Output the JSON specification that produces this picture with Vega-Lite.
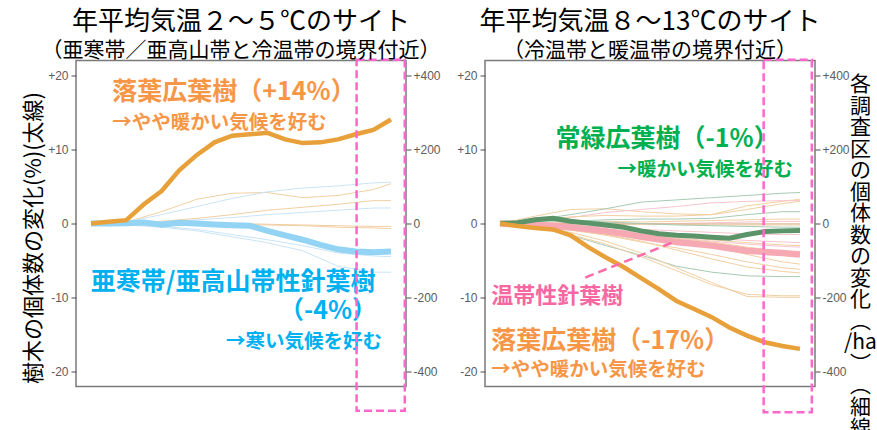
{
"$schema":"https://vega.github.io/schema/vega-lite/v6.json",
"background":"white",
"padding":{"left":21,"top":7.5,"right":0,"bottom":0},
"spacing":13,
"datasets":{
"lk":[
{"s":"kb","x":2005,"y":0},{"s":"kb","x":2006,"y":0},{"s":"kb","x":2007,"y":0.05},{"s":"kb","x":2008,"y":0.15},{"s":"kb","x":2009,"y":-0.15},{"s":"kb","x":2010,"y":0.1},{"s":"kb","x":2011,"y":0},{"s":"kb","x":2012,"y":-0.15},{"s":"kb","x":2013,"y":-0.25},{"s":"kb","x":2014,"y":-0.3},{"s":"kb","x":2015,"y":-1.0},{"s":"kb","x":2016,"y":-1.6},{"s":"kb","x":2017,"y":-2.2},{"s":"kb","x":2018,"y":-2.9},{"s":"kb","x":2019,"y":-3.5},{"s":"kb","x":2020,"y":-3.8},{"s":"kb","x":2021,"y":-3.9},{"s":"kb","x":2022,"y":-3.8},
{"s":"ko","x":2005,"y":0},{"s":"ko","x":2006,"y":0.25},{"s":"ko","x":2007,"y":0.45},{"s":"ko","x":2008,"y":2.6},{"s":"ko","x":2009,"y":4.4},{"s":"ko","x":2010,"y":7.2},{"s":"ko","x":2011,"y":9.3},{"s":"ko","x":2012,"y":11.0},{"s":"ko","x":2013,"y":11.9},{"s":"ko","x":2014,"y":12.1},{"s":"ko","x":2015,"y":12.3},{"s":"ko","x":2016,"y":11.4},{"s":"ko","x":2017,"y":10.9},{"s":"ko","x":2018,"y":11.0},{"s":"ko","x":2019,"y":11.4},{"s":"ko","x":2020,"y":12.1},{"s":"ko","x":2021,"y":12.7},{"s":"ko","x":2022,"y":14.1}
],
"rk":[
{"s":"kp","x":2005,"y":0},{"s":"kp","x":2006,"y":-0.1},{"s":"kp","x":2007,"y":-0.2},{"s":"kp","x":2008,"y":-0.35},{"s":"kp","x":2009,"y":-0.5},{"s":"kp","x":2010,"y":-0.75},{"s":"kp","x":2011,"y":-1.05},{"s":"kp","x":2012,"y":-1.4},{"s":"kp","x":2013,"y":-1.8},{"s":"kp","x":2014,"y":-2.15},{"s":"kp","x":2015,"y":-2.5},{"s":"kp","x":2016,"y":-2.75},{"s":"kp","x":2017,"y":-3.0},{"s":"kp","x":2018,"y":-3.35},{"s":"kp","x":2019,"y":-3.7},{"s":"kp","x":2020,"y":-3.85},{"s":"kp","x":2021,"y":-4.0},{"s":"kp","x":2022,"y":-4.2},
{"s":"kg","x":2005,"y":0},{"s":"kg","x":2006,"y":0.1},{"s":"kg","x":2007,"y":0.5},{"s":"kg","x":2008,"y":0.7},{"s":"kg","x":2009,"y":0.3},{"s":"kg","x":2010,"y":0.05},{"s":"kg","x":2011,"y":-0.2},{"s":"kg","x":2012,"y":-0.5},{"s":"kg","x":2013,"y":-1.0},{"s":"kg","x":2014,"y":-1.4},{"s":"kg","x":2015,"y":-1.6},{"s":"kg","x":2016,"y":-1.7},{"s":"kg","x":2017,"y":-1.85},{"s":"kg","x":2018,"y":-2.0},{"s":"kg","x":2019,"y":-1.5},{"s":"kg","x":2020,"y":-1.1},{"s":"kg","x":2021,"y":-1.0},{"s":"kg","x":2022,"y":-0.95},
{"s":"ko","x":2005,"y":0},{"s":"ko","x":2006,"y":-0.35},{"s":"ko","x":2007,"y":-0.6},{"s":"ko","x":2008,"y":-0.8},{"s":"ko","x":2009,"y":-1.6},{"s":"ko","x":2010,"y":-3.2},{"s":"ko","x":2011,"y":-4.6},{"s":"ko","x":2012,"y":-5.9},{"s":"ko","x":2013,"y":-7.4},{"s":"ko","x":2014,"y":-8.9},{"s":"ko","x":2015,"y":-10.5},{"s":"ko","x":2016,"y":-11.6},{"s":"ko","x":2017,"y":-12.7},{"s":"ko","x":2018,"y":-14.1},{"s":"ko","x":2019,"y":-15.2},{"s":"ko","x":2020,"y":-16.1},{"s":"ko","x":2021,"y":-16.6},{"s":"ko","x":2022,"y":-17.0}
],
"lt":[
{"s":"lo1","c":"to","x":2005,"h":0},{"s":"lo1","c":"to","x":2007,"h":4},{"s":"lo1","c":"to","x":2009,"h":32},{"s":"lo1","c":"to","x":2011,"h":66},{"s":"lo1","c":"to","x":2013,"h":82},{"s":"lo1","c":"to","x":2015,"h":84},{"s":"lo1","c":"to","x":2017,"h":70},{"s":"lo1","c":"to","x":2019,"h":76},{"s":"lo1","c":"to","x":2021,"h":92},{"s":"lo1","c":"to","x":2022,"h":108},
{"s":"lb1","c":"tb","x":2005,"h":0},{"s":"lb1","c":"tb","x":2007,"h":4},{"s":"lb1","c":"tb","x":2009,"h":24},{"s":"lb1","c":"tb","x":2011,"h":46},{"s":"lb1","c":"tb","x":2013,"h":68},{"s":"lb1","c":"tb","x":2015,"h":86},{"s":"lb1","c":"tb","x":2017,"h":96},{"s":"lb1","c":"tb","x":2019,"h":102},{"s":"lb1","c":"tb","x":2021,"h":110},{"s":"lb1","c":"tb","x":2022,"h":112},
{"s":"lo2","c":"to","x":2005,"h":0},{"s":"lo2","c":"to","x":2007,"h":2},{"s":"lo2","c":"to","x":2009,"h":6},{"s":"lo2","c":"to","x":2011,"h":14},{"s":"lo2","c":"to","x":2013,"h":24},{"s":"lo2","c":"to","x":2015,"h":36},{"s":"lo2","c":"to","x":2017,"h":44},{"s":"lo2","c":"to","x":2019,"h":52},{"s":"lo2","c":"to","x":2021,"h":62},{"s":"lo2","c":"to","x":2022,"h":62},
{"s":"lb2","c":"tb","x":2005,"h":0},{"s":"lb2","c":"tb","x":2007,"h":0},{"s":"lb2","c":"tb","x":2009,"h":4},{"s":"lb2","c":"tb","x":2011,"h":10},{"s":"lb2","c":"tb","x":2013,"h":16},{"s":"lb2","c":"tb","x":2015,"h":24},{"s":"lb2","c":"tb","x":2017,"h":30},{"s":"lb2","c":"tb","x":2019,"h":36},{"s":"lb2","c":"tb","x":2021,"h":42},{"s":"lb2","c":"tb","x":2022,"h":42},
{"s":"lo3","c":"to","x":2005,"h":0},{"s":"lo3","c":"to","x":2007,"h":2},{"s":"lo3","c":"to","x":2009,"h":2},{"s":"lo3","c":"to","x":2011,"h":0},{"s":"lo3","c":"to","x":2013,"h":-2},{"s":"lo3","c":"to","x":2015,"h":-4},{"s":"lo3","c":"to","x":2017,"h":-6},{"s":"lo3","c":"to","x":2019,"h":-10},{"s":"lo3","c":"to","x":2021,"h":-12},{"s":"lo3","c":"to","x":2022,"h":-14},
{"s":"lo4","c":"to","x":2005,"h":0},{"s":"lo4","c":"to","x":2007,"h":0},{"s":"lo4","c":"to","x":2009,"h":2},{"s":"lo4","c":"to","x":2011,"h":2},{"s":"lo4","c":"to","x":2013,"h":0},{"s":"lo4","c":"to","x":2015,"h":-2},{"s":"lo4","c":"to","x":2017,"h":-4},{"s":"lo4","c":"to","x":2019,"h":-6},{"s":"lo4","c":"to","x":2021,"h":-8},{"s":"lo4","c":"to","x":2022,"h":-8},
{"s":"lb3","c":"tb","x":2005,"h":0},{"s":"lb3","c":"tb","x":2007,"h":-4},{"s":"lb3","c":"tb","x":2009,"h":-10},{"s":"lb3","c":"tb","x":2011,"h":-20},{"s":"lb3","c":"tb","x":2013,"h":-36},{"s":"lb3","c":"tb","x":2015,"h":-52},{"s":"lb3","c":"tb","x":2017,"h":-74},{"s":"lb3","c":"tb","x":2019,"h":-116},{"s":"lb3","c":"tb","x":2021,"h":-132},{"s":"lb3","c":"tb","x":2022,"h":-132},
{"s":"lb4","c":"tb","x":2005,"h":0},{"s":"lb4","c":"tb","x":2007,"h":-2},{"s":"lb4","c":"tb","x":2009,"h":-8},{"s":"lb4","c":"tb","x":2011,"h":-16},{"s":"lb4","c":"tb","x":2013,"h":-30},{"s":"lb4","c":"tb","x":2015,"h":-44},{"s":"lb4","c":"tb","x":2017,"h":-60},{"s":"lb4","c":"tb","x":2019,"h":-80},{"s":"lb4","c":"tb","x":2021,"h":-88},{"s":"lb4","c":"tb","x":2022,"h":-90}
],
"rt":[
{"s":"ro1","c":"to","x":2005,"h":0},{"s":"ro1","c":"to","x":2007,"h":20},{"s":"ro1","c":"to","x":2009,"h":38},{"s":"ro1","c":"to","x":2011,"h":40},{"s":"ro1","c":"to","x":2013,"h":32},{"s":"ro1","c":"to","x":2015,"h":26},{"s":"ro1","c":"to","x":2017,"h":24},{"s":"ro1","c":"to","x":2019,"h":48},{"s":"ro1","c":"to","x":2021,"h":60},{"s":"ro1","c":"to","x":2022,"h":66},
{"s":"rg1","c":"tg","x":2005,"h":0},{"s":"rg1","c":"tg","x":2007,"h":10},{"s":"rg1","c":"tg","x":2009,"h":24},{"s":"rg1","c":"tg","x":2011,"h":40},{"s":"rg1","c":"tg","x":2013,"h":58},{"s":"rg1","c":"tg","x":2015,"h":64},{"s":"rg1","c":"tg","x":2017,"h":70},{"s":"rg1","c":"tg","x":2019,"h":76},{"s":"rg1","c":"tg","x":2021,"h":82},{"s":"rg1","c":"tg","x":2022,"h":84},
{"s":"rp1","c":"tp","x":2005,"h":0},{"s":"rp1","c":"tp","x":2007,"h":6},{"s":"rp1","c":"tp","x":2009,"h":16},{"s":"rp1","c":"tp","x":2011,"h":30},{"s":"rp1","c":"tp","x":2013,"h":38},{"s":"rp1","c":"tp","x":2015,"h":46},{"s":"rp1","c":"tp","x":2017,"h":56},{"s":"rp1","c":"tp","x":2019,"h":60},{"s":"rp1","c":"tp","x":2021,"h":62},{"s":"rp1","c":"tp","x":2022,"h":62},
{"s":"rg2","c":"tg","x":2005,"h":0},{"s":"rg2","c":"tg","x":2007,"h":2},{"s":"rg2","c":"tg","x":2009,"h":6},{"s":"rg2","c":"tg","x":2011,"h":10},{"s":"rg2","c":"tg","x":2013,"h":12},{"s":"rg2","c":"tg","x":2015,"h":12},{"s":"rg2","c":"tg","x":2017,"h":14},{"s":"rg2","c":"tg","x":2019,"h":24},{"s":"rg2","c":"tg","x":2021,"h":32},{"s":"rg2","c":"tg","x":2022,"h":32},
{"s":"ro2","c":"to","x":2005,"h":0},{"s":"ro2","c":"to","x":2007,"h":2},{"s":"ro2","c":"to","x":2009,"h":4},{"s":"ro2","c":"to","x":2011,"h":6},{"s":"ro2","c":"to","x":2013,"h":4},{"s":"ro2","c":"to","x":2015,"h":6},{"s":"ro2","c":"to","x":2017,"h":8},{"s":"ro2","c":"to","x":2019,"h":10},{"s":"ro2","c":"to","x":2021,"h":12},{"s":"ro2","c":"to","x":2022,"h":12},
{"s":"rp2","c":"tp","x":2005,"h":0},{"s":"rp2","c":"tp","x":2007,"h":0},{"s":"rp2","c":"tp","x":2009,"h":2},{"s":"rp2","c":"tp","x":2011,"h":2},{"s":"rp2","c":"tp","x":2013,"h":0},{"s":"rp2","c":"tp","x":2015,"h":0},{"s":"rp2","c":"tp","x":2017,"h":2},{"s":"rp2","c":"tp","x":2019,"h":4},{"s":"rp2","c":"tp","x":2021,"h":6},{"s":"rp2","c":"tp","x":2022,"h":6},
{"s":"ro3","c":"to","x":2005,"h":0},{"s":"ro3","c":"to","x":2007,"h":0},{"s":"ro3","c":"to","x":2009,"h":-2},{"s":"ro3","c":"to","x":2011,"h":-2},{"s":"ro3","c":"to","x":2013,"h":-2},{"s":"ro3","c":"to","x":2015,"h":-2},{"s":"ro3","c":"to","x":2017,"h":-4},{"s":"ro3","c":"to","x":2019,"h":-4},{"s":"ro3","c":"to","x":2021,"h":-4},{"s":"ro3","c":"to","x":2022,"h":-4},
{"s":"ro4","c":"tn","x":2005,"h":0},{"s":"ro4","c":"tn","x":2007,"h":0},{"s":"ro4","c":"tn","x":2009,"h":0},{"s":"ro4","c":"tn","x":2011,"h":-1},{"s":"ro4","c":"tn","x":2013,"h":-1},{"s":"ro4","c":"tn","x":2015,"h":-1},{"s":"ro4","c":"tn","x":2017,"h":-1},{"s":"ro4","c":"tn","x":2019,"h":-1},{"s":"ro4","c":"tn","x":2021,"h":-1},{"s":"ro4","c":"tn","x":2022,"h":-1},
{"s":"rp3","c":"tp","x":2005,"h":0},{"s":"rp3","c":"tp","x":2007,"h":-2},{"s":"rp3","c":"tp","x":2009,"h":-6},{"s":"rp3","c":"tp","x":2011,"h":-10},{"s":"rp3","c":"tp","x":2013,"h":-16},{"s":"rp3","c":"tp","x":2015,"h":-20},{"s":"rp3","c":"tp","x":2017,"h":-24},{"s":"rp3","c":"tp","x":2019,"h":-28},{"s":"rp3","c":"tp","x":2021,"h":-30},{"s":"rp3","c":"tp","x":2022,"h":-30},
{"s":"rp4","c":"tp","x":2005,"h":0},{"s":"rp4","c":"tp","x":2007,"h":-4},{"s":"rp4","c":"tp","x":2009,"h":-8},{"s":"rp4","c":"tp","x":2011,"h":-16},{"s":"rp4","c":"tp","x":2013,"h":-24},{"s":"rp4","c":"tp","x":2015,"h":-32},{"s":"rp4","c":"tp","x":2017,"h":-40},{"s":"rp4","c":"tp","x":2019,"h":-46},{"s":"rp4","c":"tp","x":2021,"h":-50},{"s":"rp4","c":"tp","x":2022,"h":-52},
{"s":"ro5","c":"to","x":2005,"h":0},{"s":"ro5","c":"to","x":2007,"h":-6},{"s":"ro5","c":"to","x":2009,"h":-12},{"s":"ro5","c":"to","x":2011,"h":-20},{"s":"ro5","c":"to","x":2013,"h":-28},{"s":"ro5","c":"to","x":2015,"h":-36},{"s":"ro5","c":"to","x":2017,"h":-44},{"s":"ro5","c":"to","x":2019,"h":-52},{"s":"ro5","c":"to","x":2021,"h":-58},{"s":"ro5","c":"to","x":2022,"h":-60},
{"s":"ro6","c":"to","x":2005,"h":0},{"s":"ro6","c":"to","x":2007,"h":-4},{"s":"ro6","c":"to","x":2009,"h":-10},{"s":"ro6","c":"to","x":2011,"h":-20},{"s":"ro6","c":"to","x":2013,"h":-32},{"s":"ro6","c":"to","x":2015,"h":-46},{"s":"ro6","c":"to","x":2017,"h":-62},{"s":"ro6","c":"to","x":2019,"h":-84},{"s":"ro6","c":"to","x":2021,"h":-104},{"s":"ro6","c":"to","x":2022,"h":-110},
{"s":"ro7","c":"to","x":2005,"h":0},{"s":"ro7","c":"to","x":2007,"h":-8},{"s":"ro7","c":"to","x":2009,"h":-18},{"s":"ro7","c":"to","x":2011,"h":-32},{"s":"ro7","c":"to","x":2013,"h":-50},{"s":"ro7","c":"to","x":2015,"h":-66},{"s":"ro7","c":"to","x":2017,"h":-84},{"s":"ro7","c":"to","x":2019,"h":-104},{"s":"ro7","c":"to","x":2021,"h":-120},{"s":"ro7","c":"to","x":2022,"h":-124},
{"s":"ro8","c":"to","x":2005,"h":0},{"s":"ro8","c":"to","x":2007,"h":-6},{"s":"ro8","c":"to","x":2009,"h":-16},{"s":"ro8","c":"to","x":2011,"h":-30},{"s":"ro8","c":"to","x":2013,"h":-48},{"s":"ro8","c":"to","x":2015,"h":-72},{"s":"ro8","c":"to","x":2017,"h":-96},{"s":"ro8","c":"to","x":2019,"h":-118},{"s":"ro8","c":"to","x":2021,"h":-130},{"s":"ro8","c":"to","x":2022,"h":-134},
{"s":"rg3","c":"tg","x":2005,"h":0},{"s":"rg3","c":"tg","x":2007,"h":-8},{"s":"rg3","c":"tg","x":2009,"h":-32},{"s":"rg3","c":"tg","x":2011,"h":-60},{"s":"rg3","c":"tg","x":2013,"h":-86},{"s":"rg3","c":"tg","x":2015,"h":-116},{"s":"rg3","c":"tg","x":2017,"h":-132},{"s":"rg3","c":"tg","x":2019,"h":-142},{"s":"rg3","c":"tg","x":2021,"h":-144},{"s":"rg3","c":"tg","x":2022,"h":-144},
{"s":"ro9","c":"to","x":2005,"h":0},{"s":"ro9","c":"to","x":2007,"h":-10},{"s":"ro9","c":"to","x":2009,"h":-24},{"s":"ro9","c":"to","x":2011,"h":-48},{"s":"ro9","c":"to","x":2013,"h":-80},{"s":"ro9","c":"to","x":2015,"h":-120},{"s":"ro9","c":"to","x":2017,"h":-160},{"s":"ro9","c":"to","x":2019,"h":-198},{"s":"ro9","c":"to","x":2021,"h":-200},{"s":"ro9","c":"to","x":2022,"h":-200},
{"s":"ro10","c":"to","x":2005,"h":0},{"s":"ro10","c":"to","x":2007,"h":-12},{"s":"ro10","c":"to","x":2009,"h":-30},{"s":"ro10","c":"to","x":2011,"h":-56},{"s":"ro10","c":"to","x":2013,"h":-90},{"s":"ro10","c":"to","x":2015,"h":-128},{"s":"ro10","c":"to","x":2017,"h":-166},{"s":"ro10","c":"to","x":2019,"h":-192},{"s":"ro10","c":"to","x":2021,"h":-196},{"s":"ro10","c":"to","x":2022,"h":-196},
{"s":"rg4","c":"tg","x":2005,"h":0},{"s":"rg4","c":"tg","x":2007,"h":6},{"s":"rg4","c":"tg","x":2009,"h":8},{"s":"rg4","c":"tg","x":2011,"h":4},{"s":"rg4","c":"tg","x":2013,"h":0},{"s":"rg4","c":"tg","x":2015,"h":-4},{"s":"rg4","c":"tg","x":2017,"h":-6},{"s":"rg4","c":"tg","x":2019,"h":-8},{"s":"rg4","c":"tg","x":2021,"h":-10},{"s":"rg4","c":"tg","x":2022,"h":-10},
{"s":"ro11","c":"to","x":2005,"h":0},{"s":"ro11","c":"to","x":2007,"h":8},{"s":"ro11","c":"to","x":2009,"h":18},{"s":"ro11","c":"to","x":2011,"h":22},{"s":"ro11","c":"to","x":2013,"h":20},{"s":"ro11","c":"to","x":2015,"h":20},{"s":"ro11","c":"to","x":2017,"h":24},{"s":"ro11","c":"to","x":2019,"h":38},{"s":"ro11","c":"to","x":2021,"h":54},{"s":"ro11","c":"to","x":2022,"h":60},
{"s":"rp5","c":"tp","x":2005,"h":0},{"s":"rp5","c":"tp","x":2007,"h":-4},{"s":"rp5","c":"tp","x":2009,"h":-10},{"s":"rp5","c":"tp","x":2011,"h":-18},{"s":"rp5","c":"tp","x":2013,"h":-28},{"s":"rp5","c":"tp","x":2015,"h":-38},{"s":"rp5","c":"tp","x":2017,"h":-48},{"s":"rp5","c":"tp","x":2019,"h":-56},{"s":"rp5","c":"tp","x":2021,"h":-62},{"s":"rp5","c":"tp","x":2022,"h":-64},
{"s":"ro12","c":"to","x":2005,"h":0},{"s":"ro12","c":"to","x":2007,"h":-6},{"s":"ro12","c":"to","x":2009,"h":-14},{"s":"ro12","c":"to","x":2011,"h":-24},{"s":"ro12","c":"to","x":2013,"h":-32},{"s":"ro12","c":"to","x":2015,"h":-40},{"s":"ro12","c":"to","x":2017,"h":-50},{"s":"ro12","c":"to","x":2019,"h":-64},{"s":"ro12","c":"to","x":2021,"h":-76},{"s":"ro12","c":"to","x":2022,"h":-80}
],
"lx":[
{"t":"落葉広葉樹（+14%）","x":2006.21,"y":17.8,"k":"o1","a":"l"},
{"t":"→やや暖かい気候を好む","x":2006.21,"y":13.6,"k":"o2","a":"l"},
{"t":"亜寒帯/亜高山帯性針葉樹","x":2013.05,"y":-7.96,"k":"b1","a":"c"},
{"t":"（-4%）","x":2018.43,"y":-11.9,"k":"b1","a":"c"},
{"t":"→寒い気候を好む","x":2021.49,"y":-16.1,"k":"b2","a":"r"}
],
"rx":[
{"t":"常緑広葉樹（-1%）","x":2014.47,"y":11.5,"k":"g1","a":"c"},
{"t":"→暖かい気候を好む","x":2021.6,"y":7.2,"k":"g2","a":"r"},
{"t":"温帯性針葉樹","x":2004.51,"y":-9.77,"k":"p1","a":"l"},
{"t":"落葉広葉樹（-17%）","x":2004.51,"y":-15.9,"k":"o1","a":"l"},
{"t":"→やや暖かい気候を好む","x":2004.51,"y":-19.9,"k":"o2","a":"l"}
],
"lr":[{"x":2020.05,"xe":2022.78,"y":22.2,"ye":-25.4}],
"rr":[{"x":2019.94,"xe":2022.67,"y":22.2,"ye":-25.6}],
"rl":[{"x":2009.83,"y":-7.33,"xe":2014.92,"ye":-2.44}]
},
"hconcat":[
{
"width":330,"height":326,
"title":{"text":"年平均気温２～５℃のサイト","subtitle":"（亜寒帯／亜高山帯と冷温帯の境界付近）"},
"layer":[
{"data":{"name":"lt"},"mark":{"type":"line","strokeWidth":1,"clip":true},
 "encoding":{
  "x":{"field":"x","type":"quantitative","scale":{"domain":[2004.15,2022.85],"nice":false,"zero":false},
       "axis":{"values":[2005,2007.5,2010,2012.5,2015,2017.5,2020],"labelExpr":"datum.value % 5 === 0 ? '' + datum.value : ''","title":null,
               "tickOpacity":{"condition":{"test":"datum.value % 5 === 0","value":1},"value":0},
               "gridWidth":{"condition":{"test":"datum.value % 5 === 0","value":1.2},"value":0.6}}},
  "y":{"field":"h","type":"quantitative","scale":{"domain":[-442,442],"nice":false,"zero":false},
       "axis":{"orient":"right","values":[-400,-200,0,200,400],"labelExpr":"datum.value > 0 ? '+' + datum.value : '' + datum.value","grid":false,"title":null,"labelPadding":2}},
  "color":{"field":"c","type":"nominal","scale":{"domain":["to","tb","tg","tp","tn"],"range":["#F1CFA2","#C9E4F6","#A6CAB4","#F7C4CE","#D8B48C"]},"legend":null},
  "detail":{"field":"s","type":"nominal"}}},
{"data":{"name":"lk"},"mark":{"type":"line","clip":true},
 "encoding":{
  "x":{"field":"x","type":"quantitative","scale":{"domain":[2004.15,2022.85],"nice":false,"zero":false},"axis":null},
  "y":{"field":"y","type":"quantitative","scale":{"domain":[-22.1,22.1],"nice":false,"zero":false},
       "axis":{"orient":"left","values":[-20,-15,-10,-5,0,5,10,15,20],
               "labelExpr":"datum.value % 10 === 0 ? (datum.value > 0 ? '+' + datum.value : '' + datum.value) : ''",
               "tickOpacity":{"condition":{"test":"datum.value % 10 === 0","value":1},"value":0},
               "gridWidth":{"condition":{"test":"datum.value % 10 === 0","value":1.2},"value":0.6},
               "labelPadding":3,
               "title":"樹木の個体数の変化(%)(太線)","titleFontSize":22,"titleX":-43,"titleY":177,"titleAngle":-90,"titleAlign":"center","titleBaseline":"middle"}},
  "color":{"field":"s","type":"nominal","scale":{"type":"ordinal","domain":["ko","kb","kg","kp"],"range":["#E8A13A","#93D3F3","#5C946A","#F6A9B2"]},"legend":null},
  "strokeWidth":{"field":"s","type":"nominal","scale":{"type":"ordinal","domain":["ko","kb","kg","kp"],"range":[4.5,6,5,6.5]},"legend":null}}},
{"data":{"name":"lx"},"transform":[{"filter":"datum.a === 'l'"}],
 "mark":{"type":"text","font":"Noto Sans CJK JP","fontWeight":"bold","align":"left","baseline":"middle"},
 "encoding":{
  "x":{"field":"x","type":"quantitative","scale":{"domain":[2004.15,2022.85],"nice":false,"zero":false},"axis":null},
  "y":{"field":"y","type":"quantitative","scale":{"domain":[-22.1,22.1],"nice":false,"zero":false},"axis":null},
  "text":{"field":"t"},
  "color":{"field":"k","type":"nominal","scale":{"type":"ordinal","domain":["o1","o2","b1","b2","g1","g2","p1"],"range":["#F79646","#F79646","#00B0F0","#00B0F0","#00B050","#00B050","#F767A2"]},"legend":null},
  "size":{"field":"k","type":"nominal","scale":{"type":"ordinal","domain":["o1","o2","b1","b2","g1","g2","p1"],"range":[25,19.5,25,19.5,25,19.5,22]},"legend":null}}},
{"data":{"name":"lx"},"transform":[{"filter":"datum.a === 'c'"}],
 "mark":{"type":"text","font":"Noto Sans CJK JP","fontWeight":"bold","align":"center","baseline":"middle"},
 "encoding":{
  "x":{"field":"x","type":"quantitative","scale":{"domain":[2004.15,2022.85],"nice":false,"zero":false},"axis":null},
  "y":{"field":"y","type":"quantitative","scale":{"domain":[-22.1,22.1],"nice":false,"zero":false},"axis":null},
  "text":{"field":"t"},
  "color":{"field":"k","type":"nominal","scale":{"type":"ordinal","domain":["o1","o2","b1","b2","g1","g2","p1"],"range":["#F79646","#F79646","#00B0F0","#00B0F0","#00B050","#00B050","#F767A2"]},"legend":null},
  "size":{"field":"k","type":"nominal","scale":{"type":"ordinal","domain":["o1","o2","b1","b2","g1","g2","p1"],"range":[25,19.5,25,19.5,25,19.5,22]},"legend":null}}},
{"data":{"name":"lx"},"transform":[{"filter":"datum.a === 'r'"}],
 "mark":{"type":"text","font":"Noto Sans CJK JP","fontWeight":"bold","align":"right","baseline":"middle"},
 "encoding":{
  "x":{"field":"x","type":"quantitative","scale":{"domain":[2004.15,2022.85],"nice":false,"zero":false},"axis":null},
  "y":{"field":"y","type":"quantitative","scale":{"domain":[-22.1,22.1],"nice":false,"zero":false},"axis":null},
  "text":{"field":"t"},
  "color":{"field":"k","type":"nominal","scale":{"type":"ordinal","domain":["o1","o2","b1","b2","g1","g2","p1"],"range":["#F79646","#F79646","#00B0F0","#00B0F0","#00B050","#00B050","#F767A2"]},"legend":null},
  "size":{"field":"k","type":"nominal","scale":{"type":"ordinal","domain":["o1","o2","b1","b2","g1","g2","p1"],"range":[25,19.5,25,19.5,25,19.5,22]},"legend":null}}},
{"data":{"name":"lr"},"mark":{"type":"rect","fill":"white","fillOpacity":0,"stroke":"#FF66CC","strokeWidth":2.5,"strokeDash":[8,4],"clip":false},
 "encoding":{
  "x":{"field":"x","type":"quantitative","scale":{"domain":[2004.15,2022.85],"nice":false,"zero":false},"axis":null},
  "x2":{"field":"xe"},
  "y":{"field":"y","type":"quantitative","scale":{"domain":[-22.1,22.1],"nice":false,"zero":false},"axis":null},
  "y2":{"field":"ye"}}}
],
"resolve":{"scale":{"y":"independent","color":"independent","size":"independent","strokeWidth":"independent"},"axis":{"y":"independent"}}
},
{
"width":330,"height":326,
"title":{"text":"年平均気温８～13℃のサイト","subtitle":"（冷温帯と暖温帯の境界付近）"},
"layer":[
{"data":{"name":"rt"},"mark":{"type":"line","strokeWidth":1,"clip":true},
 "encoding":{
  "x":{"field":"x","type":"quantitative","scale":{"domain":[2004.15,2022.85],"nice":false,"zero":false},
       "axis":{"values":[2005,2007.5,2010,2012.5,2015,2017.5,2020],"labelExpr":"datum.value % 5 === 0 ? '' + datum.value : ''","title":null,
               "tickOpacity":{"condition":{"test":"datum.value % 5 === 0","value":1},"value":0},
               "gridWidth":{"condition":{"test":"datum.value % 5 === 0","value":1.2},"value":0.6}}},
  "y":{"field":"h","type":"quantitative","scale":{"domain":[-442,442],"nice":false,"zero":false},
       "axis":{"orient":"right","values":[-400,-200,0,200,400],"labelExpr":"datum.value > 0 ? '+' + datum.value : '' + datum.value","grid":false,"labelPadding":2,
               "title":["各","調","査","区","の","個","体","数","の","変","化","︵","/ha","︶","︵","細","線","︶"],
               "titleAngle":0,"titleX":45,"titleY":13,"titleAlign":"center","titleBaseline":"top","titleFontSize":21,"titleLineHeight":21.5}},
  "color":{"field":"c","type":"nominal","scale":{"domain":["to","tb","tg","tp","tn"],"range":["#F1CFA2","#C9E4F6","#A6CAB4","#F7C4CE","#D8B48C"]},"legend":null},
  "detail":{"field":"s","type":"nominal"}}},
{"data":{"name":"rk"},"mark":{"type":"line","clip":true},
 "encoding":{
  "x":{"field":"x","type":"quantitative","scale":{"domain":[2004.15,2022.85],"nice":false,"zero":false},"axis":null},
  "y":{"field":"y","type":"quantitative","scale":{"domain":[-22.1,22.1],"nice":false,"zero":false},
       "axis":{"orient":"left","values":[-20,-15,-10,-5,0,5,10,15,20],
               "labelExpr":"datum.value % 10 === 0 ? (datum.value > 0 ? '+' + datum.value : '' + datum.value) : ''",
               "tickOpacity":{"condition":{"test":"datum.value % 10 === 0","value":1},"value":0},
               "gridWidth":{"condition":{"test":"datum.value % 10 === 0","value":1.2},"value":0.6},
               "labelPadding":3,"title":null}},
  "color":{"field":"s","type":"nominal","scale":{"type":"ordinal","domain":["ko","kb","kg","kp"],"range":["#E8A13A","#93D3F3","#5C946A","#F6A9B2"]},"legend":null},
  "strokeWidth":{"field":"s","type":"nominal","scale":{"type":"ordinal","domain":["ko","kb","kg","kp"],"range":[4.5,6,5,6.5]},"legend":null}}},
{"data":{"name":"rx"},"transform":[{"filter":"datum.a === 'l'"}],
 "mark":{"type":"text","font":"Noto Sans CJK JP","fontWeight":"bold","align":"left","baseline":"middle"},
 "encoding":{
  "x":{"field":"x","type":"quantitative","scale":{"domain":[2004.15,2022.85],"nice":false,"zero":false},"axis":null},
  "y":{"field":"y","type":"quantitative","scale":{"domain":[-22.1,22.1],"nice":false,"zero":false},"axis":null},
  "text":{"field":"t"},
  "color":{"field":"k","type":"nominal","scale":{"type":"ordinal","domain":["o1","o2","b1","b2","g1","g2","p1"],"range":["#F79646","#F79646","#00B0F0","#00B0F0","#00B050","#00B050","#F767A2"]},"legend":null},
  "size":{"field":"k","type":"nominal","scale":{"type":"ordinal","domain":["o1","o2","b1","b2","g1","g2","p1"],"range":[25,19.5,25,19.5,25,19.5,22]},"legend":null}}},
{"data":{"name":"rx"},"transform":[{"filter":"datum.a === 'c'"}],
 "mark":{"type":"text","font":"Noto Sans CJK JP","fontWeight":"bold","align":"center","baseline":"middle"},
 "encoding":{
  "x":{"field":"x","type":"quantitative","scale":{"domain":[2004.15,2022.85],"nice":false,"zero":false},"axis":null},
  "y":{"field":"y","type":"quantitative","scale":{"domain":[-22.1,22.1],"nice":false,"zero":false},"axis":null},
  "text":{"field":"t"},
  "color":{"field":"k","type":"nominal","scale":{"type":"ordinal","domain":["o1","o2","b1","b2","g1","g2","p1"],"range":["#F79646","#F79646","#00B0F0","#00B0F0","#00B050","#00B050","#F767A2"]},"legend":null},
  "size":{"field":"k","type":"nominal","scale":{"type":"ordinal","domain":["o1","o2","b1","b2","g1","g2","p1"],"range":[25,19.5,25,19.5,25,19.5,22]},"legend":null}}},
{"data":{"name":"rx"},"transform":[{"filter":"datum.a === 'r'"}],
 "mark":{"type":"text","font":"Noto Sans CJK JP","fontWeight":"bold","align":"right","baseline":"middle"},
 "encoding":{
  "x":{"field":"x","type":"quantitative","scale":{"domain":[2004.15,2022.85],"nice":false,"zero":false},"axis":null},
  "y":{"field":"y","type":"quantitative","scale":{"domain":[-22.1,22.1],"nice":false,"zero":false},"axis":null},
  "text":{"field":"t"},
  "color":{"field":"k","type":"nominal","scale":{"type":"ordinal","domain":["o1","o2","b1","b2","g1","g2","p1"],"range":["#F79646","#F79646","#00B0F0","#00B0F0","#00B050","#00B050","#F767A2"]},"legend":null},
  "size":{"field":"k","type":"nominal","scale":{"type":"ordinal","domain":["o1","o2","b1","b2","g1","g2","p1"],"range":[25,19.5,25,19.5,25,19.5,22]},"legend":null}}},
{"data":{"name":"rl"},"mark":{"type":"rule","stroke":"#FF6AAA","strokeWidth":2.5,"strokeDash":[9,5]},
 "encoding":{
  "x":{"field":"x","type":"quantitative","scale":{"domain":[2004.15,2022.85],"nice":false,"zero":false},"axis":null},
  "x2":{"field":"xe"},
  "y":{"field":"y","type":"quantitative","scale":{"domain":[-22.1,22.1],"nice":false,"zero":false},"axis":null},
  "y2":{"field":"ye"}}},
{"data":{"name":"rr"},"mark":{"type":"rect","fill":"white","fillOpacity":0,"stroke":"#FF66CC","strokeWidth":2.5,"strokeDash":[8,4],"clip":false},
 "encoding":{
  "x":{"field":"x","type":"quantitative","scale":{"domain":[2004.15,2022.85],"nice":false,"zero":false},"axis":null},
  "x2":{"field":"xe"},
  "y":{"field":"y","type":"quantitative","scale":{"domain":[-22.1,22.1],"nice":false,"zero":false},"axis":null},
  "y2":{"field":"ye"}}}
],
"resolve":{"scale":{"y":"independent","color":"independent","size":"independent","strokeWidth":"independent"},"axis":{"y":"independent"}}
}
],
"config":{
 "view":{"stroke":"#7a7a7a","strokeWidth":1.5},
 "title":{"font":"Noto Sans CJK JP","fontSize":26,"fontWeight":"normal","color":"#000000","subtitleFont":"Noto Sans CJK JP","subtitleFontSize":21,"subtitleColor":"#000000","subtitlePadding":5,"offset":-2,"anchor":"middle"},
 "axis":{"domain":false,"tickColor":"#4d4d4d","tickSize":5,"labelFont":"Liberation Sans","labelFontSize":12,"labelColor":"#5c5c5c","gridColor":"#EBEBEB","labelOverlap":false,"labelFlush":false,"titleFont":"Noto Sans CJK JP","titleFontWeight":"normal","titleColor":"#000000"}
}
}
